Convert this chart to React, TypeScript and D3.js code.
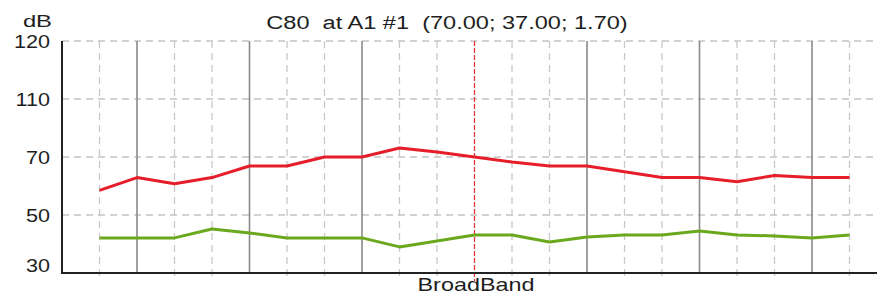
import * as d3 from 'd3';
import { useEffect, useRef } from "react";

// 21 third-octave bands, cursor at index 10
const bands = d3.range(21);
const solidBands = [1, 4, 7, 13, 16, 19];
const cursorBand = 10;

const redValues = [58.5, 62.9, 60.8, 62.9, 66.9, 66.9, 70, 70, 76.2, 73.4, 70, 68.3, 66.9, 66.9, 64.9, 62.9, 62.9, 61.5, 63.6, 62.9, 62.9];
const greenValues = [42.1, 42.1, 42.1, 45.2, 43.8, 42.1, 42.1, 42.1, 39, 41, 43.1, 43.1, 40.7, 42.4, 43.1, 43.1, 44.5, 43.1, 42.8, 42.1, 43.1];

const yTicks = [30, 50, 70, 110, 120];

const WIDTH = 877;
const HEIGHT = 295;
const LEFT = 62;
const TOP = 41;
const BOTTOM = 273;
const FONT = "'Liberation Sans', Arial, sans-serif";

export default function App() {
    const ref = useRef(null);
    useEffect(() => {
        if (!ref.current) return;
        const svg = d3.select(ref.current);
        svg.selectAll("*").remove();

        const x = d3.scaleLinear().domain([-1, 21]).range([LEFT, LEFT + 37.5 * 22]);
        // non-uniform axis: the ticks sit at equal spacing
        const y = d3.scaleLinear()
            .domain(yTicks)
            .range(yTicks.map((_, i) => BOTTOM - i * (BOTTOM - TOP) / (yTicks.length - 1)));

        // the reference text is drawn wide, so stretch it horizontally
        const label = (tx: number, ty: number, sx: number, size: number, anchor: string, txt: string) =>
            svg.append('text')
                .attr('transform', `translate(${tx},${ty}) scale(${sx},1)`)
                .attr('text-anchor', anchor)
                .style('font-family', FONT)
                .style('font-size', `${size}px`)
                .style('white-space', 'pre')
                .attr('fill', '#1e1e1e')
                .text(txt);

        // horizontal dashed grid
        svg.append('g').selectAll('line')
            .data(yTicks.slice(1))
            .enter()
            .append('line')
            .attr('x1', LEFT)
            .attr('x2', WIDTH)
            .attr('y1', d => y(d))
            .attr('y2', d => y(d))
            .attr('stroke', '#c4c4c4')
            .attr('stroke-width', 1.3)
            .attr('stroke-dasharray', '7,5');

        // vertical band lines
        svg.append('g').selectAll('line')
            .data(bands)
            .enter()
            .append('line')
            .attr('x1', d => x(d))
            .attr('x2', d => x(d))
            .attr('y1', TOP)
            .attr('y2', d => solidBands.includes(d) ? BOTTOM : BOTTOM + 8)
            .attr('stroke', d => d === cursorBand ? '#e8323c' : solidBands.includes(d) ? '#8a8a8a' : '#c8c8c8')
            .attr('stroke-width', d => solidBands.includes(d) ? 1.6 : 1.3)
            .attr('stroke-dasharray', d => solidBands.includes(d) ? null : (d === cursorBand ? '5,2' : '7,5'));

        const line = d3.line<number>()
            .x((_, i) => x(i))
            .y(d => y(d));

        svg.append('path')
            .datum(greenValues)
            .attr('d', line)
            .attr('fill', 'none')
            .attr('stroke', '#6aa81e')
            .attr('stroke-width', 3)
            .attr('stroke-linejoin', 'round');

        svg.append('path')
            .datum(redValues)
            .attr('d', line)
            .attr('fill', 'none')
            .attr('stroke', '#e61e2a')
            .attr('stroke-width', 3)
            .attr('stroke-linejoin', 'round');

        // axes
        svg.append('line')
            .attr('x1', LEFT).attr('x2', LEFT)
            .attr('y1', TOP).attr('y2', BOTTOM + 1)
            .attr('stroke', '#222').attr('stroke-width', 2);
        svg.append('line')
            .attr('x1', LEFT - 1).attr('x2', WIDTH)
            .attr('y1', BOTTOM).attr('y2', BOTTOM)
            .attr('stroke', '#222').attr('stroke-width', 2);

        yTicks.forEach(t => label(50, Math.min(y(t), BOTTOM - 8) + 6.5, 1.2, 18, 'end', String(t)));

        label(52, 27, 1.4, 17, 'end', 'dB');
        label(447, 29, 1.24, 19, 'middle', 'C80  at A1 #1  (70.00; 37.00; 1.70)');
        label(476, 291, 1.3, 18, 'middle', 'BroadBand');
    }, []);

    return (
        <svg ref={ref} width={WIDTH} height={HEIGHT} style={{ position: 'absolute', left: 0, top: 0, background: '#fff' }}></svg>
    );
}
